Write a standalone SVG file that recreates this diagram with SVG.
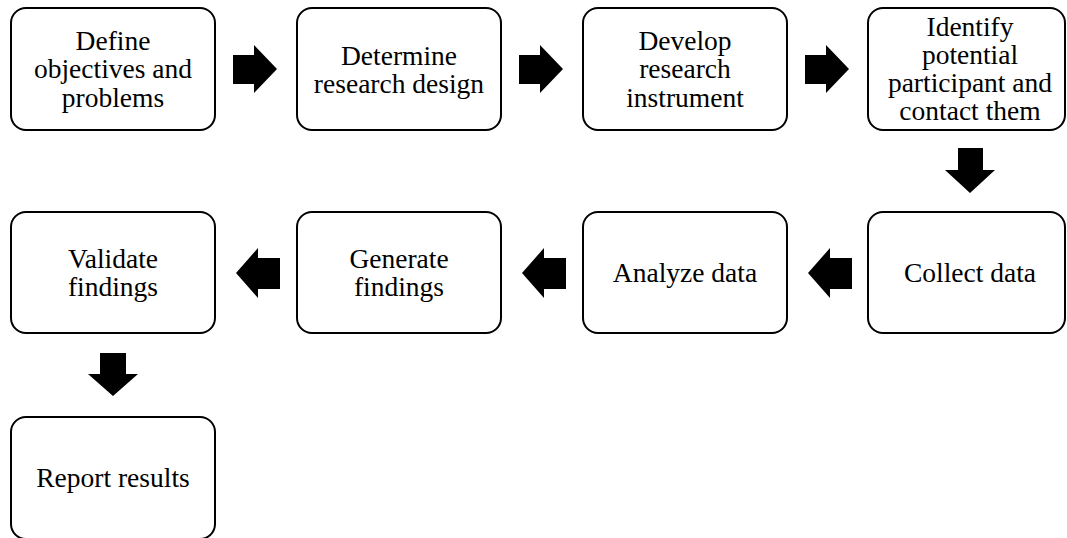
<svg xmlns="http://www.w3.org/2000/svg" width="1067" height="538" viewBox="0 0 1067 538">
<style>
.box{fill:#fff;stroke:#000;stroke-width:2}
text{font-family:"Liberation Serif","Times New Roman",serif;font-size:27.5px;fill:#000;text-anchor:middle}
.arr{fill:#000}
</style>
<rect width="1067" height="538" fill="#fff"/>
<g id="n1"><rect class="box" x="11" y="8" width="204" height="122" rx="15"/><text x="113" y="49.5">Define</text><text x="113" y="78">objectives and</text><text x="113" y="106.5">problems</text></g>
<g id="n2"><rect class="box" x="297" y="8" width="204" height="122" rx="15"/><text x="399" y="64.5">Determine</text><text x="399" y="93">research design</text></g>
<g id="n3"><rect class="box" x="583" y="8" width="204" height="122" rx="15"/><text x="685" y="49.5">Develop</text><text x="685" y="78">research</text><text x="685" y="106.5">instrument</text></g>
<g id="n4"><rect class="box" x="868" y="8" width="197" height="122" rx="15"/><text x="970" y="35.5">Identify</text><text x="970" y="63.5">potential</text><text x="970" y="91.5">participant and</text><text x="970" y="119.5">contact them</text></g>
<g id="n5"><rect class="box" x="868" y="212" width="197" height="121" rx="15"/><text x="970" y="281.5">Collect data</text></g>
<g id="n6"><rect class="box" x="583" y="212" width="204" height="121" rx="15"/><text x="685" y="281.5">Analyze data</text></g>
<g id="n7"><rect class="box" x="297" y="212" width="204" height="121" rx="15"/><text x="399" y="267.5">Generate</text><text x="399" y="296">findings</text></g>
<g id="n8"><rect class="box" x="11" y="212" width="204" height="121" rx="15"/><text x="113" y="267.5">Validate</text><text x="113" y="296">findings</text></g>
<g id="n9"><rect class="box" x="11" y="417" width="204" height="122" rx="15"/><text x="113" y="487">Report results</text></g>
<g id="connectors" class="arr">
<polygon points="233,55 254,55 254,45 277,69 254,93 254,84 233,84"/>
<polygon points="519,55 540,55 540,45 563,69 540,93 540,84 519,84"/>
<polygon points="805,55 826,55 826,45 849,69 826,93 826,84 805,84"/>
<polygon points="958,148 983,148 983,170 995,170 970,193 945,170 958,170"/>
<polygon points="852,258 852,289 830,289 830,298 808,273 830,248 830,258"/>
<polygon points="566,258 566,289 544,289 544,298 522,273 544,248 544,258"/>
<polygon points="280,258 280,289 258,289 258,298 236,273 258,248 258,258"/>
<polygon points="100,353 126,353 126,374 138,374 113,396 88,374 100,374"/>
</g>
</svg>
